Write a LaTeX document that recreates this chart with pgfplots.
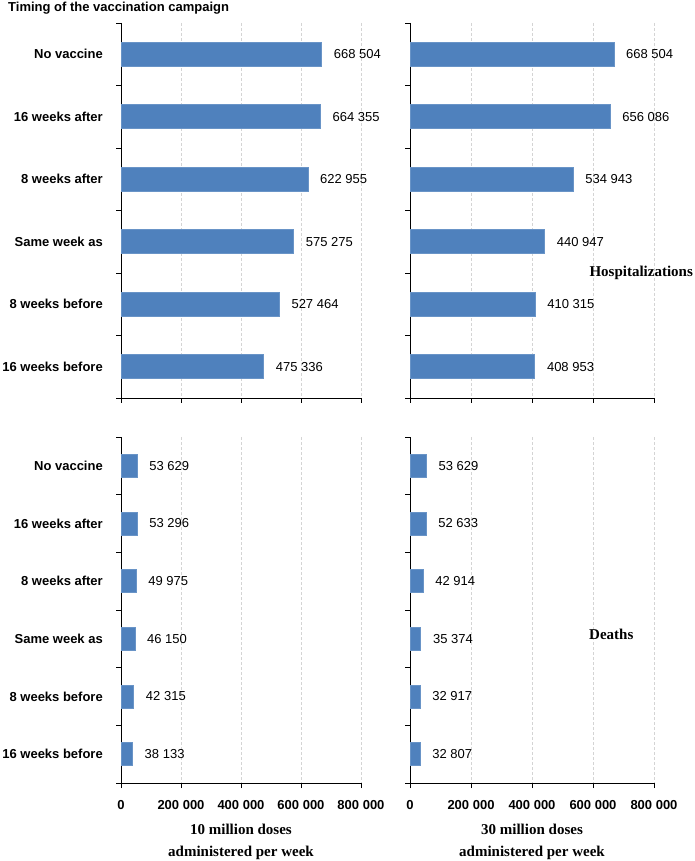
\documentclass[border=0pt]{standalone}
\usepackage{fontspec}
\setmainfont{Liberation Sans}
\newfontfamily\timesfont{Liberation Serif}
\usepackage{pgfplots}
\pgfplotsset{compat=1.18}

\definecolor{barblue}{HTML}{4F81BD}
\definecolor{gridgray}{HTML}{D4D4D4}
\newcommand{\lab}{\fontsize{13}{15}\selectfont}
\newcommand{\serlab}{\timesfont\bfseries\fontsize{15}{22}\selectfont}

\pgfplotsset{
  panel/.style={
    scale only axis,
    xbar, bar shift=0pt,
    xmin=0, xmax=800000,
    ymin=-0.5, ymax=5.5, y dir=reverse,
    axis x line*=bottom, axis y line*=left,
    axis line style={black, line width=0.9pt},
    scaled x ticks=false,
    xtick={0,200000,400000,600000,800000},
    xticklabels={0,200 000,400 000,600 000,800 000},
    xmajorgrids,
    grid style={gridgray, dash pattern=on 3pt off 2pt, line width=0.6pt},
    ytick={-0.5,0.5,1.5,2.5,3.5,4.5,5.5},
    yticklabels={},
    tick align=outside,
    major tick length=5pt,
    tick style={black, line width=0.9pt},
    xticklabel style={font=\bfseries\lab, yshift=-9pt},
    clip=false,
    point meta=x,
    nodes near coords={\pgfmathprintnumber[fixed,precision=0,1000 sep={\ }]{\pgfplotspointmeta}},
    every node near coord/.append style={font=\lab, anchor=west, inner sep=0pt, xshift=12pt, text=black},
    /pgf/number format/assume math mode=true,
  },
  cats/.style={
    extra y ticks={0,1,2,3,4,5},
    extra y tick labels={No vaccine,16 weeks after,8 weeks after,Same week as,8 weeks before,16 weeks before},
    extra y tick style={major tick length=0pt, grid=none,
      yticklabel style={font=\bfseries\lab, anchor=east, inner sep=0pt, xshift=-18pt}},
  },
  bars/.style={fill=barblue, draw=barblue!85!white, line width=0.6pt},
}

\begin{document}
\begin{tikzpicture}
\useasboundingbox (0,0) rectangle (694pt,861pt);
\node[anchor=base west, font=\bfseries\lab, inner sep=0pt] at (8pt,849pt) {Timing of the vaccination campaign};

% hospitalizations, 10 million doses per week
\begin{axis}[panel, cats, at={(121pt,463pt)}, anchor=south west,
  width=240pt, height=375pt, bar width=24pt, xticklabels={}]
\addplot[bars] coordinates {
  (668504,0) (664355,1) (622955,2) (575275,3) (527464,4) (475336,5)
};
\end{axis}

% hospitalizations, 30 million doses per week
\begin{axis}[panel, at={(410pt,463pt)}, anchor=south west,
  width=244pt, height=375pt, bar width=24pt, xticklabels={}]
\addplot[bars] coordinates {
  (668504,0) (656086,1) (534943,2) (440947,3) (410315,4) (408953,5)
};
\node[anchor=west, font=\serlab, inner sep=0pt] at (axis cs:588000,3.5) {Hospitalizations};
\end{axis}

% deaths, 10 million doses per week
\begin{axis}[panel, cats, at={(121pt,78pt)}, anchor=south west,
  width=240pt, height=346pt, bar width=23pt,
  xlabel={10 million doses\\administered per week},
  xlabel style={font=\serlab, align=center, inner sep=0pt,
    at={(axis description cs:0.5,0)}, anchor=north, yshift=-41pt}]
\addplot[bars] coordinates {
  (53629,0) (53296,1) (49975,2) (46150,3) (42315,4) (38133,5)
};
\end{axis}

% deaths, 30 million doses per week
\begin{axis}[panel, at={(410pt,78pt)}, anchor=south west,
  width=244pt, height=346pt, bar width=23pt,
  xlabel={30 million doses\\administered per week},
  xlabel style={font=\serlab, align=center, inner sep=0pt,
    at={(axis description cs:0.5,0)}, anchor=north, yshift=-41pt}]
\addplot[bars] coordinates {
  (53629,0) (52633,1) (42914,2) (35374,3) (32917,4) (32807,5)
};
\node[anchor=west, font=\serlab, inner sep=0pt] at (axis cs:587000,2.92) {Deaths};
\end{axis}
\end{tikzpicture}
\end{document}
